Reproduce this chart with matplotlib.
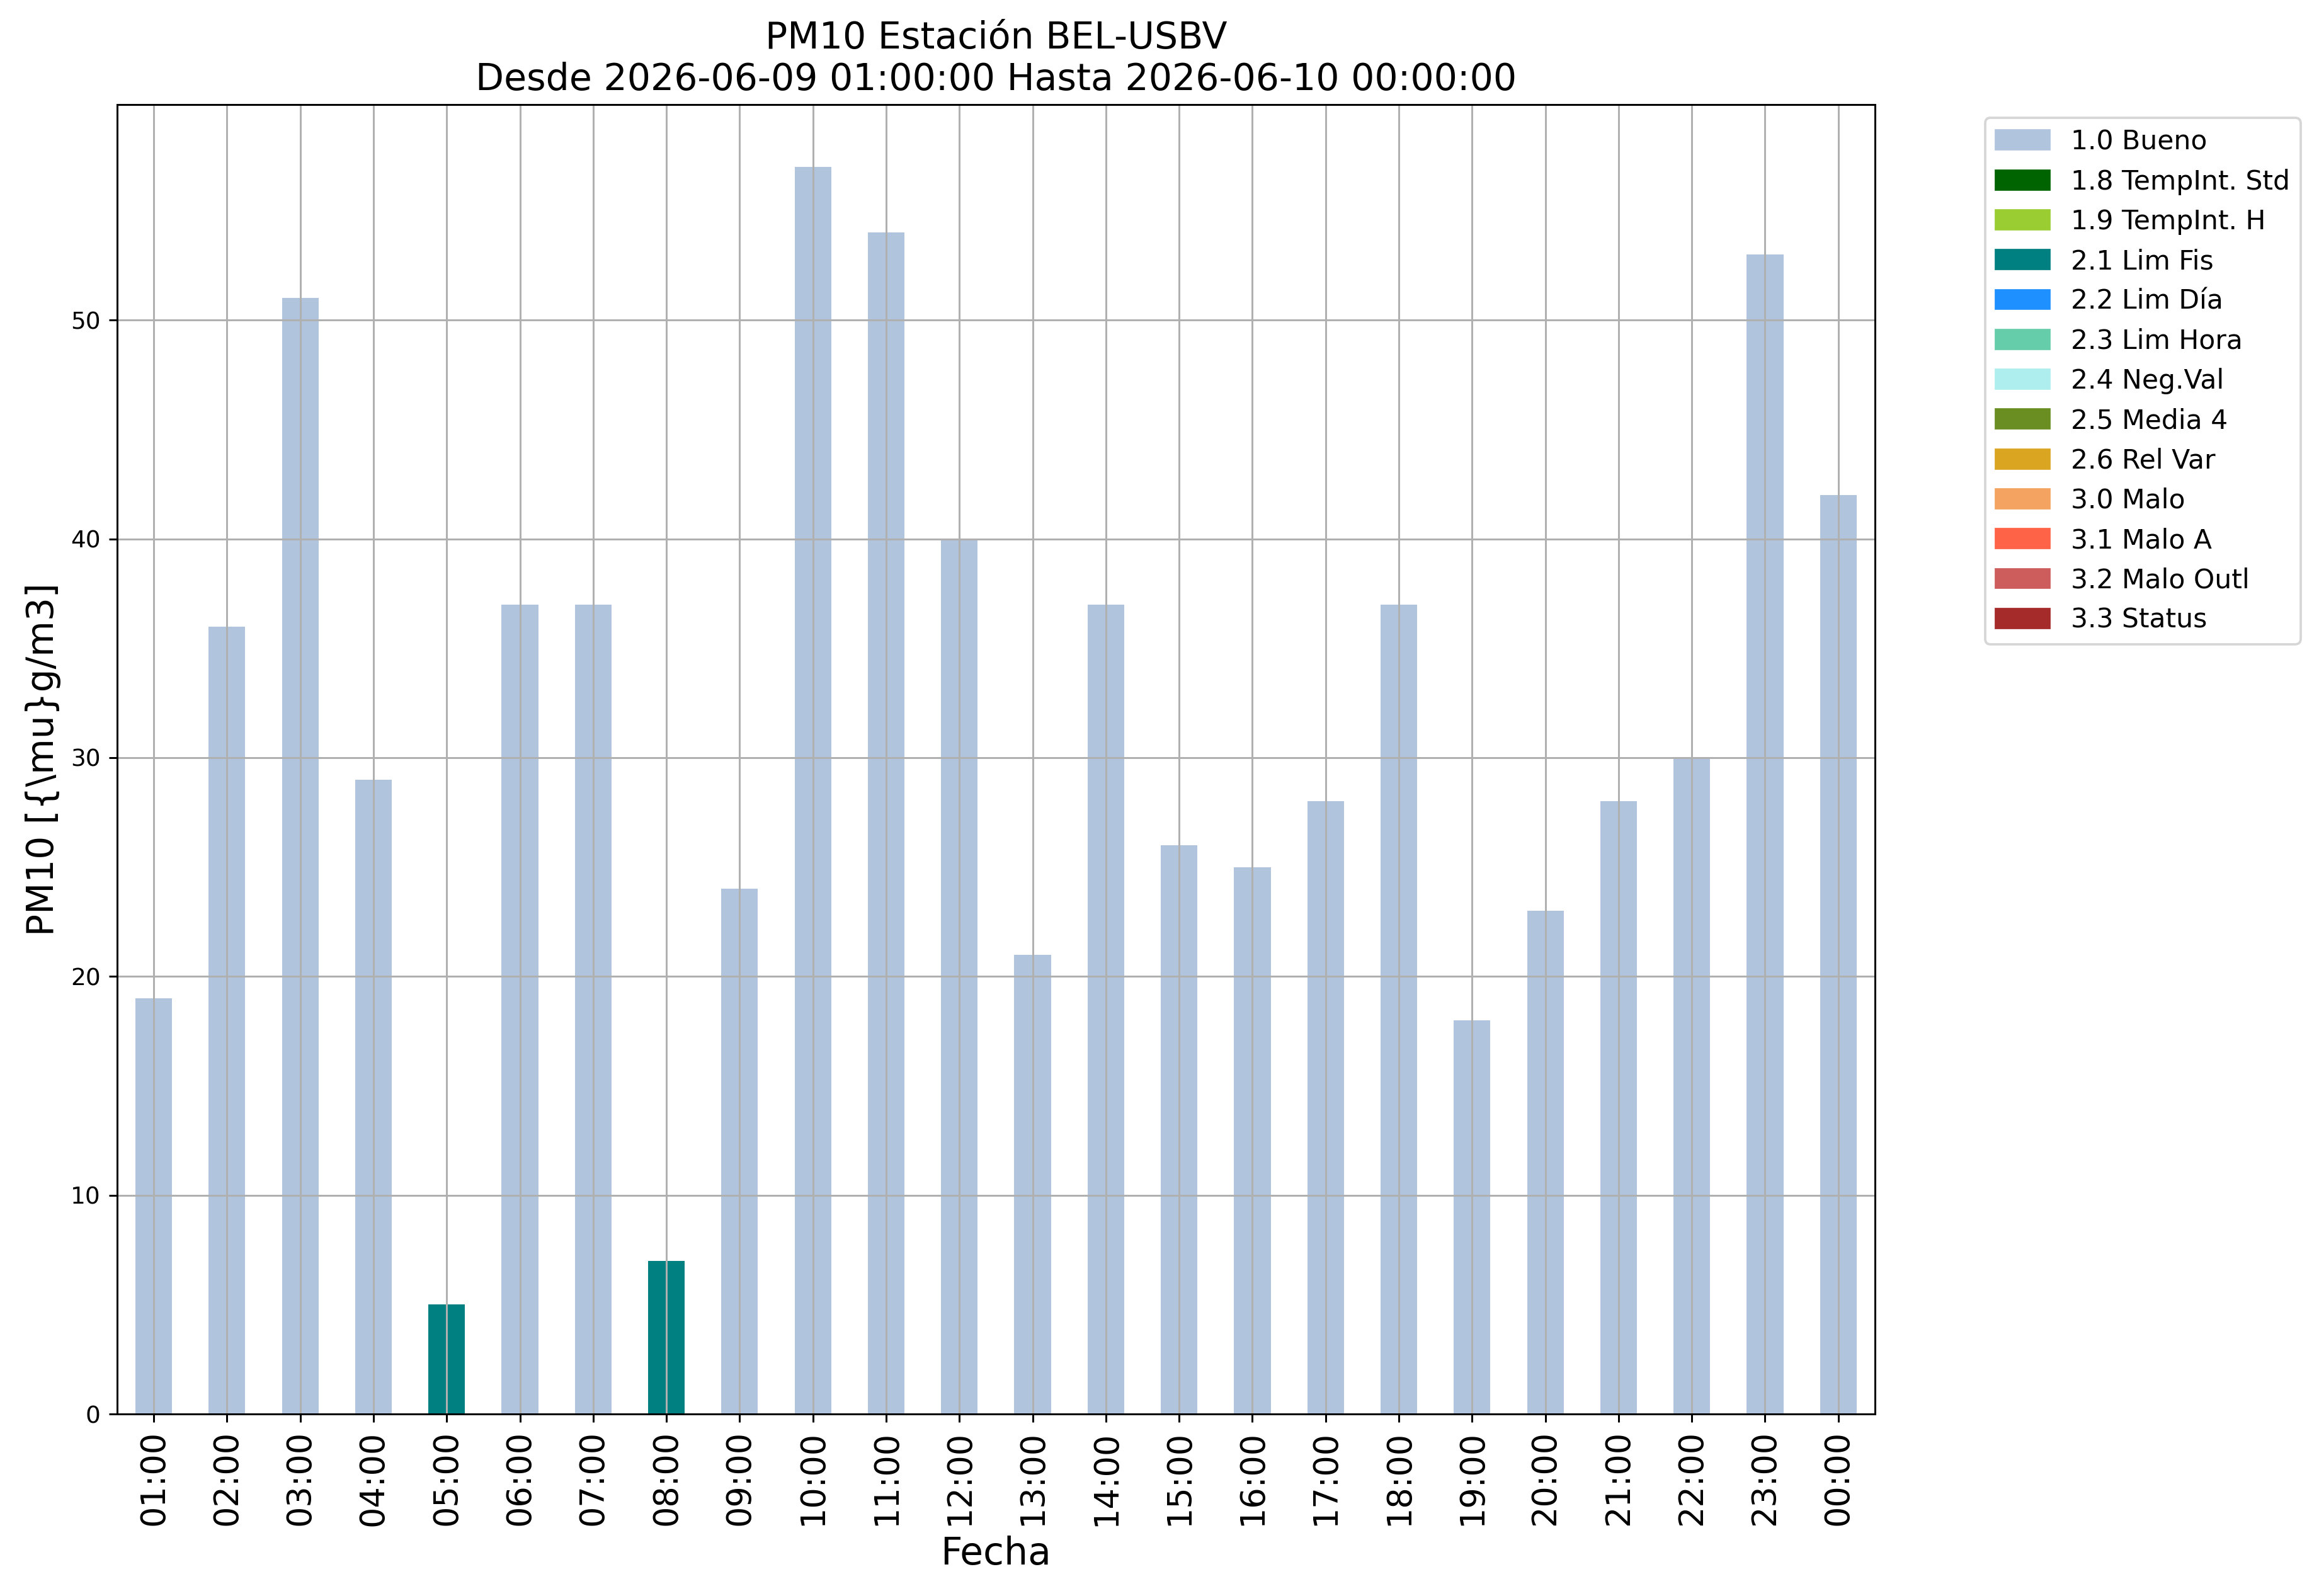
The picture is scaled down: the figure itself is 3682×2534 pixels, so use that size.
import matplotlib
matplotlib.use("Agg")
from matplotlib import pyplot as plt
from matplotlib.patches import Patch

horas = ["01:00", "02:00", "03:00", "04:00", "05:00", "06:00", "07:00", "08:00",
         "09:00", "10:00", "11:00", "12:00", "13:00", "14:00", "15:00", "16:00",
         "17:00", "18:00", "19:00", "20:00", "21:00", "22:00", "23:00", "00:00"]
valores = [19, 36, 51, 29, 5, 37, 37, 7, 24, 57, 54, 40,
           21, 37, 26, 25, 28, 37, 18, 23, 28, 30, 53, 42]
flags = ["1.0 Bueno"] * 24
flags[4] = "2.1 Lim Fis"
flags[7] = "2.1 Lim Fis"

etiquetas = ["1.0 Bueno", "1.8 TempInt. Std", "1.9 TempInt. H", "2.1 Lim Fis",
             "2.2 Lim Día", "2.3 Lim Hora", "2.4 Neg.Val", "2.5 Media 4",
             "2.6 Rel Var", "3.0 Malo", "3.1 Malo A", "3.2 Malo Outl", "3.3 Status"]
colores = ["lightsteelblue", "darkgreen", "yellowgreen", "teal", "dodgerblue",
           "mediumaquamarine", "paleturquoise", "olivedrab", "goldenrod",
           "sandybrown", "tomato", "indianred", "brown"]
color_de = dict(zip(etiquetas, colores))

fig = plt.figure(figsize=(3682 / 270, 2534 / 270), dpi=270)
ax = fig.add_axes([0.0505, 0.114, 0.758, 0.8205])

x = range(len(horas))
ax.bar(x, valores, width=0.5, color=[color_de[f] for f in flags])
ax.set_xlim(-0.5, len(horas) - 0.5)
ax.set_xticks(list(x))
ax.set_xticklabels(horas, rotation=90, fontsize=14)
ax.grid(True)

ax.set_title("PM10 Estación BEL-USBV\nDesde 2026-06-09 01:00:00 Hasta 2026-06-10 00:00:00",
             fontsize=15.6)
ax.set_xlabel("Fecha", fontsize=16)
ax.set_ylabel("PM10 [{\\mu}g/m3]", fontsize=15.5)

handles = [Patch(color=c, label=l) for l, c in zip(etiquetas, colores)]
ax.legend(handles=handles, bbox_to_anchor=(1.055, 1), loc="upper left",
          fontsize=11.35)

fig.savefig("out.png", dpi=270)
